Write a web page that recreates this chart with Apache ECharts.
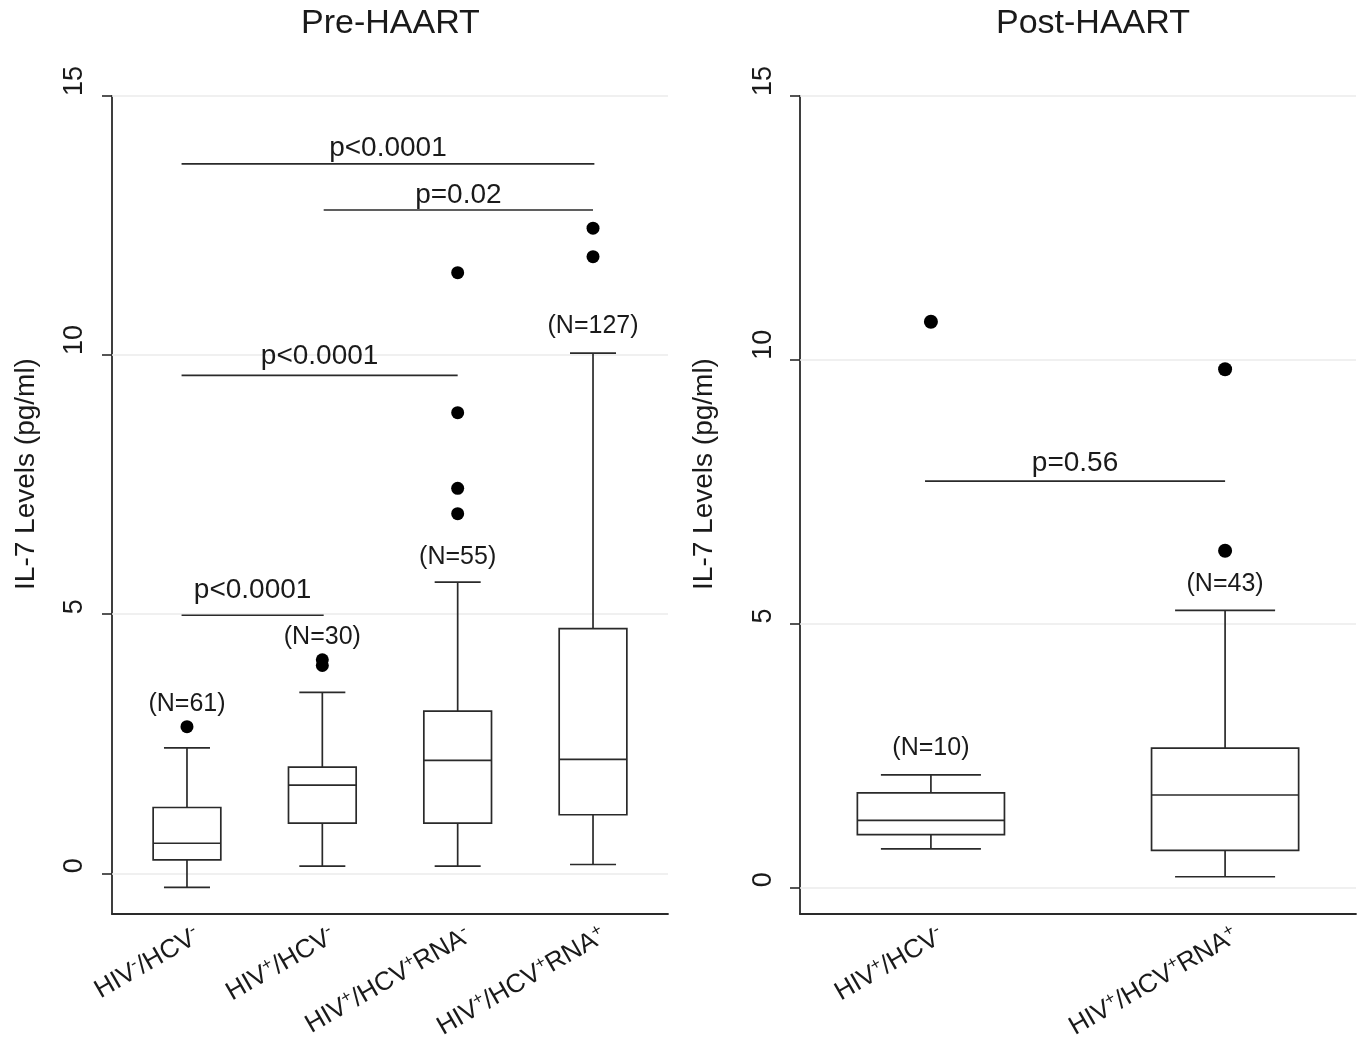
<!DOCTYPE html>
<html>
<head>
<meta charset="utf-8">
<script src="https://cdn.jsdelivr.net/npm/echarts@6/dist/echarts.min.js"></script>
<style>
html,body{margin:0;padding:0;background:#fff;}
#chart{width:1363px;height:1044px;}
</style>
</head>
<body>
<div id="chart"></div>
<script>
// ---------------- DATA ----------------
// Pre-HAART panel
const preCategories = ['HIV⁻/HCV⁻', 'HIV⁺/HCV⁻', 'HIV⁺/HCV⁺RNA⁻', 'HIV⁺/HCV⁺RNA⁺'];
const preLowWhisker = [-0.27, 0.14, 0.14, 0.17];
const preQ1         = [0.26, 0.97, 0.97, 1.13];
const preMedian     = [0.58, 1.70, 2.18, 2.20];
const preQ3         = [1.27, 2.05, 3.13, 4.72];
const preHighWhisker= [2.42, 3.49, 5.62, 10.04];
const preN          = [61, 30, 55, 127];
const preNLabelAt   = [3.26, 4.55, 6.10, 10.56];
const preOutlierGroup = [1, 2, 2, 3, 3, 3, 3, 4, 4];
const preOutlierValue = [2.83, 4.12, 4.01, 6.94, 7.43, 8.89, 11.59, 11.90, 12.45];
const preCompFrom   = [0.96, 0.96, 2.01, 0.96];
const preCompTo     = [2.01, 3.00, 4.00, 4.01];
const preCompAt     = [4.98, 9.61, 12.80, 13.69];
const preCompTextAt = [5.46, 9.97, 13.09, 14.00];
const preCompText   = ['p<0.0001', 'p<0.0001', 'p=0.02', 'p<0.0001'];
const preYTicks     = [0, 5, 10, 15];

// Post-HAART panel
const postCategories = ['HIV⁺/HCV⁻', 'HIV⁺/HCV⁺RNA⁺'];
const postLowWhisker = [0.73, 0.20];
const postQ1         = [1.00, 0.70];
const postMedian     = [1.27, 1.75];
const postQ3         = [1.79, 2.64];
const postHighWhisker= [2.13, 5.25];
const postN          = [10, 43];
const postNLabelAt   = [2.63, 5.74];
const postOutlierGroup = [1, 2, 2];
const postOutlierValue = [10.72, 6.38, 9.82];
const postCompFrom   = [0.98];
const postCompTo     = [2.00];
const postCompAt     = [7.70];
const postCompTextAt = [8.04];
const postCompText   = ['p=0.56'];
const postYTicks     = [0, 5, 10, 15];

// ---------------- STYLE ----------------
const FONT = '"Liberation Sans", Arial, Helvetica, sans-serif';
const INK = '#1a1a1a';
const LINE = '#2a2a2a';
const GRID = '#ebebeb';
const BOX_HALF = 0.25;
const CAP_HALF = 0.17;
const GRID_W = 556;
const LABEL_SHIFT_PX = 11;

function boxData(lo, q1, md, q3, hi, n, nAt) {
  return lo.map((v, i) => [i + 1, v, q1[i], md[i], q3[i], hi[i], n[i], nAt[i]]);
}
function compData(from, to, at, textAt) {
  return from.map((v, i) => [v, to[i], at[i], textAt[i]]);
}
function outlierData(g, v) {
  return g.map((x, i) => [x, v[i]]);
}

function renderBox(params, api) {
  const x = api.value(0);
  const c = v => api.coord([x, v]);
  const pLo = c(api.value(1)), pQ1 = c(api.value(2)), pMd = c(api.value(3));
  const pQ3 = c(api.value(4)), pHi = c(api.value(5)), pN = c(api.value(7));
  const hb = api.size([BOX_HALF, 0])[0];
  const hc = api.size([CAP_HALF, 0])[0];
  const cx = pQ1[0];
  const st = {stroke: LINE, lineWidth: 1.7, fill: null};
  return {
    type: 'group',
    children: [
      {type: 'line', shape: {x1: cx, y1: pQ1[1], x2: cx, y2: pLo[1]}, style: st},
      {type: 'line', shape: {x1: cx, y1: pQ3[1], x2: cx, y2: pHi[1]}, style: st},
      {type: 'line', shape: {x1: cx - hc, y1: pLo[1], x2: cx + hc, y2: pLo[1]}, style: st},
      {type: 'line', shape: {x1: cx - hc, y1: pHi[1], x2: cx + hc, y2: pHi[1]}, style: st},
      {type: 'rect', shape: {x: cx - hb, y: pQ3[1], width: 2 * hb, height: pQ1[1] - pQ3[1]},
        style: {stroke: LINE, lineWidth: 1.7, fill: '#ffffff'}},
      {type: 'line', shape: {x1: cx - hb, y1: pMd[1], x2: cx + hb, y2: pMd[1]}, style: st},
      {type: 'text', x: cx, y: pN[1],
        style: {text: '(N=' + api.value(6) + ')', fill: INK, fontSize: 25, fontFamily: FONT,
          align: 'center', verticalAlign: 'middle'}}
    ]
  };
}

function makeCompRender(texts) {
  return function (params, api) {
    const a = api.coord([api.value(0), api.value(2)]);
    const b = api.coord([api.value(1), api.value(2)]);
    const t = api.coord([(api.value(0) + api.value(1)) / 2, api.value(3)]);
    return {
      type: 'group',
      children: [
        {type: 'line', shape: {x1: a[0], y1: a[1], x2: b[0], y2: b[1]},
          style: {stroke: LINE, lineWidth: 1.7}},
        {type: 'text', x: t[0], y: t[1],
          style: {text: texts[params.dataIndex], fill: INK, fontSize: 28, fontFamily: FONT,
            align: 'center', verticalAlign: 'middle'}}
      ]
    };
  };
}

function richLabel(s) {
  return s.replace(/([^⁺⁻]+)|([⁺⁻])/g, (m, a, b) => {
    if (a) return '{n|' + a + '}';
    return '{s|' + (b === '⁺' ? '+' : '-') + '}';
  });
}

function xAxisFor(gridIndex, min, max, cats) {
  // anchor each rotated label slightly to the right of its box centre
  const shift = LABEL_SHIFT_PX * (max - min) / GRID_W;
  return {
    type: 'value', gridIndex, min, max,
    axisLine: {show: true, onZero: false, lineStyle: {color: LINE, width: 1.8}},
    axisTick: {show: false},
    splitLine: {show: false},
    axisLabel: {
      customValues: cats.map((c, i) => i + 1 + shift),
      rotate: 30, margin: 20,
      formatter: v => richLabel(cats[Math.round(v) - 1] || ''),
      rich: {
        n: {fontSize: 26, fontFamily: FONT, color: INK, lineHeight: 30},
        s: {fontSize: 17, fontFamily: FONT, color: INK, verticalAlign: 'top', lineHeight: 30}
      }
    }
  };
}
function yAxisFor(gridIndex, min, ticks, gap, margin) {
  return {
    type: 'value', gridIndex, min, max: 15,
    name: 'IL-7 Levels (pg/ml)', nameLocation: 'middle', nameGap: gap,
    nameTextStyle: {fontSize: 28, fontFamily: FONT, color: INK, padding: [0, 0, 0, 62]},
    axisLine: {show: true, onZero: false, lineStyle: {color: LINE, width: 1.8}},
    axisTick: {show: true, inside: false, length: 10, customValues: ticks,
      lineStyle: {color: LINE, width: 1.6}},
    axisLabel: {customValues: ticks, rotate: 90, align: 'left', verticalAlign: 'bottom',
      margin: margin, fontSize: 27, fontFamily: FONT, color: INK},
    splitLine: {show: false}
  };
}

const gridMark = ticks => ({
  silent: true, symbol: ['none', 'none'], z: 1,
  label: {show: false},
  lineStyle: {type: 'solid', color: GRID, width: 1.5, opacity: 1},
  emphasis: {disabled: true},
  data: ticks.map(t => ({yAxis: t}))
});

const option = {
  backgroundColor: '#ffffff',
  animation: false,
  graphic: [
    {type: 'text', left: 391 - 90, top: 7, style: {text: 'Pre-HAART', fontSize: 34, fontFamily: FONT, fill: INK}},
    {type: 'text', left: 1093 - 97, top: 7, style: {text: 'Post-HAART', fontSize: 34, fontFamily: FONT, fill: INK}}
  ],
  grid: [
    {left: 112, top: 96, width: GRID_W, height: 818},
    {left: 800, top: 96, width: GRID_W, height: 818}
  ],
  xAxis: [
    xAxisFor(0, 0.446, 4.554, preCategories),
    xAxisFor(1, 0.555, 2.445, postCategories)
  ],
  yAxis: [
    yAxisFor(0, -0.785, preYTicks, 72, 24),
    yAxisFor(1, -0.506, postYTicks, 82, 23)
  ],
  series: [
    {type: 'scatter', xAxisIndex: 0, yAxisIndex: 0, data: outlierData(preOutlierGroup, preOutlierValue),
      symbol: 'circle', symbolSize: 13, itemStyle: {color: '#000000', opacity: 1}, z: 4,
      markLine: gridMark(preYTicks)},
    {type: 'custom', xAxisIndex: 0, yAxisIndex: 0, renderItem: renderBox, z: 3,
      data: boxData(preLowWhisker, preQ1, preMedian, preQ3, preHighWhisker, preN, preNLabelAt),
      encode: {x: 0, y: [1, 2, 3, 4, 5]}},
    {type: 'custom', xAxisIndex: 0, yAxisIndex: 0, renderItem: makeCompRender(preCompText), z: 3,
      data: compData(preCompFrom, preCompTo, preCompAt, preCompTextAt), encode: {x: [0, 1], y: 2}},

    {type: 'scatter', xAxisIndex: 1, yAxisIndex: 1, data: outlierData(postOutlierGroup, postOutlierValue),
      symbol: 'circle', symbolSize: 14, itemStyle: {color: '#000000', opacity: 1}, z: 4,
      markLine: gridMark(postYTicks)},
    {type: 'custom', xAxisIndex: 1, yAxisIndex: 1, renderItem: renderBox, z: 3,
      data: boxData(postLowWhisker, postQ1, postMedian, postQ3, postHighWhisker, postN, postNLabelAt),
      encode: {x: 0, y: [1, 2, 3, 4, 5]}},
    {type: 'custom', xAxisIndex: 1, yAxisIndex: 1, renderItem: makeCompRender(postCompText), z: 3,
      data: compData(postCompFrom, postCompTo, postCompAt, postCompTextAt), encode: {x: [0, 1], y: 2}}
  ]
};

const chart = echarts.init(document.getElementById('chart'), null, {renderer: 'canvas'});
chart.setOption(option);
</script>
</body>
</html>
